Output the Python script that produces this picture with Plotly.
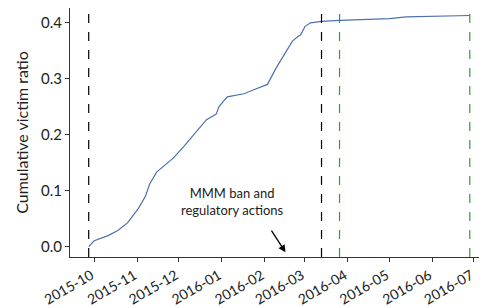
import plotly.graph_objects as go

dates = ["2015-09-27", "2015-10-01", "2015-10-11", "2015-10-18", "2015-10-25", "2015-11-02",
         "2015-11-07", "2015-11-10", "2015-11-15", "2015-11-21", "2015-11-27", "2015-12-05",
         "2015-12-15", "2015-12-21", "2015-12-28", "2015-12-30", "2016-01-05", "2016-01-17",
         "2016-01-25", "2016-02-03", "2016-02-09", "2016-02-15", "2016-02-21", "2016-02-25",
         "2016-02-27", "2016-03-01", "2016-03-05", "2016-03-13", "2016-03-26", "2016-05-01",
         "2016-05-13", "2016-06-28"]
ratio = [0.0, 0.0105, 0.0197, 0.0289, 0.0424, 0.0688,
         0.0903, 0.1118, 0.133, 0.1456, 0.158, 0.1797,
         0.210, 0.2267, 0.2365, 0.25, 0.2673, 0.2728,
         0.2808, 0.2895, 0.3176, 0.3423, 0.3668, 0.3748,
         0.3779, 0.3926, 0.3994, 0.4018, 0.4037, 0.4068,
         0.41, 0.4124]

black_lines = ["2015-09-27", "2016-03-13"]
green_lines = ["2016-03-26", "2016-06-28"]

tick_vals = ["2015-10-01", "2015-11-01", "2015-12-01", "2016-01-01", "2016-02-01",
             "2016-03-01", "2016-04-01", "2016-05-01", "2016-06-01", "2016-07-01"]
tick_text = ["2015-10", "2015-11", "2015-12", "2016-01", "2016-02",
             "2016-03", "2016-04", "2016-05", "2016-06", "2016-07"]

font_family = "Lato, Open Sans, sans-serif"
axis_color = "#333333"

fig = go.Figure()
fig.add_trace(go.Scatter(x=dates, y=ratio, mode="lines",
                         line=dict(color="#4c72b0", width=1.2), showlegend=False))

for d in black_lines:
    fig.add_vline(x=d, line=dict(color="black", width=1.2, dash="dash"))
for d in green_lines:
    fig.add_vline(x=d, line=dict(color="#2ca02c", width=1.2, dash="dash"))

fig.add_annotation(x="2016-02-16", y=-0.0098, ax=-15, ay=-23,
                   text="", showarrow=True, arrowhead=2, arrowsize=1.1,
                   arrowwidth=1.3, arrowcolor="black", xref="x", yref="y")
fig.add_annotation(x="2016-01-09", y=0.081, text="MMM ban and<br>regulatory actions",
                   showarrow=False, font=dict(size=13, color="#222222", family=font_family),
                   xref="x", yref="y")

fig.update_xaxes(range=["2015-09-13 12:00", "2016-07-10 10:00"], automargin=False,
                 tickvals=tick_vals, ticktext=tick_text, tickangle=-30,
                 ticklabelshift=-3,
                 ticks="outside", ticklen=4, tickcolor=axis_color,
                 showline=True, linecolor=axis_color, linewidth=1.2, mirror=True,
                 showgrid=False, zeroline=False,
                 tickfont=dict(size=14, color="#222222", family=font_family))
fig.update_yaxes(range=[-0.0184, 0.4258], tickvals=[0, 0.1, 0.2, 0.3, 0.4], automargin=False,
                 tickformat=".1f", ticks="outside", ticklen=4, tickcolor=axis_color,
                 showline=True, linecolor=axis_color, linewidth=1.2, mirror=True,
                 showgrid=False, zeroline=False,
                 title=dict(text="Cumulative victim ratio", standoff=8,
                            font=dict(size=16, color="#222222", family=font_family)),
                 tickfont=dict(size=15, color="#222222", family=font_family))

# page body has an 8px default margin, so the figure is sized/margined to compensate
fig.update_layout(width=479, height=300, margin=dict(l=62, r=0, t=0, b=51),
                  plot_bgcolor="white", paper_bgcolor="white",
                  font=dict(family=font_family))

fig.write_html("out.html")
